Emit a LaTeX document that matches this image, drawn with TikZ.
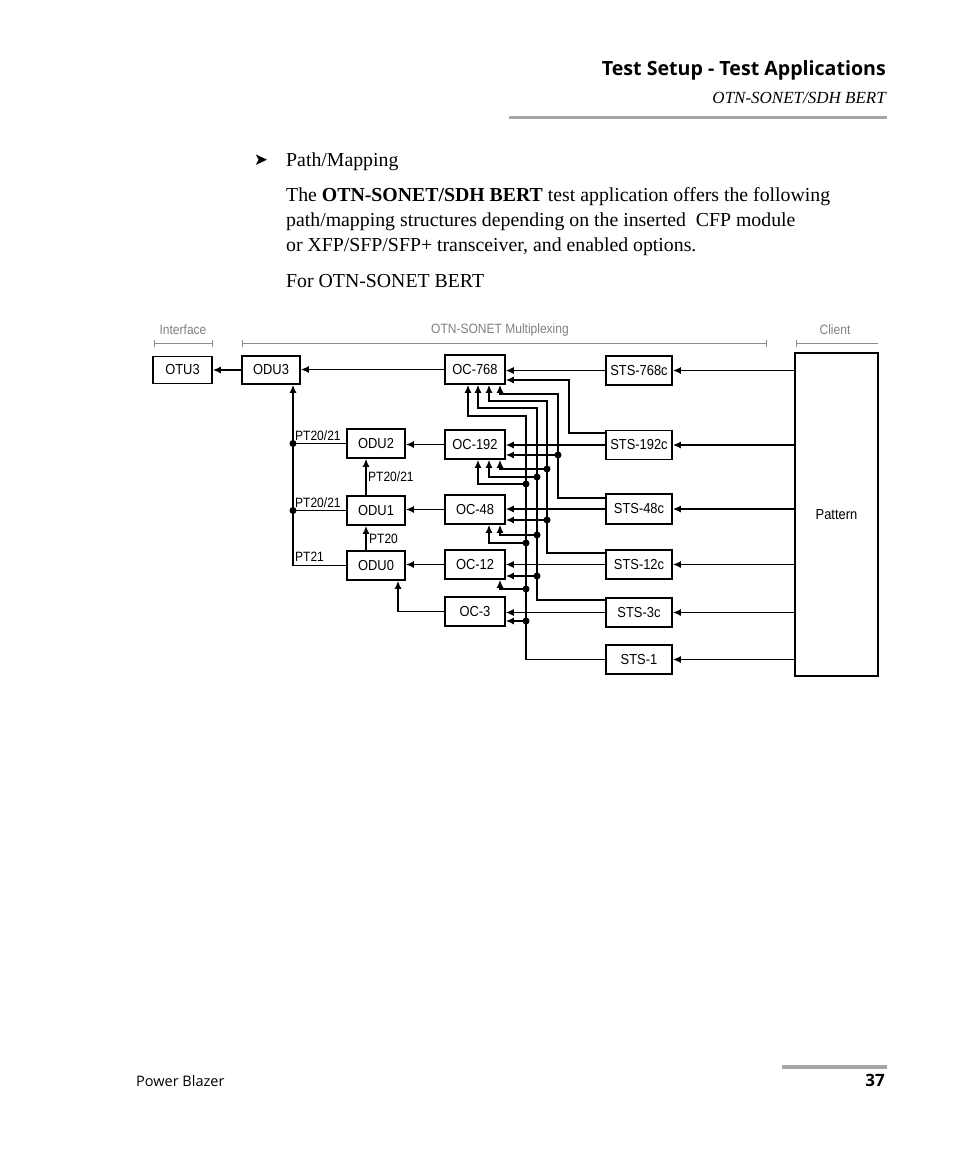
\documentclass[tikz,border=0pt]{standalone}
\usepackage{fontspec}
\setmainfont{Liberation Serif}
\newfontfamily\dg[FakeStretch=0.89]{Liberation Sans}
\newfontfamily\hd{Open Sans}
\newfontfamily\sym{DejaVu Sans}
\usetikzlibrary{arrows.meta}
\tikzset{
  box/.style={draw, line width=1.6pt, inner sep=0pt, font=\dg\fontsize{14.5}{16}\selectfont},
  ocbox/.style={box, minimum width=60pt, minimum height=29pt},
  stsbox/.style={box, minimum width=66pt, minimum height=29pt},
  odubox/.style={box, minimum width=58pt, minimum height=29pt},
  arr/.style={-{Latex[length=8pt,width=7pt]}, line width=1.2pt},
  net/.style={arr, line width=1.6pt},
  dot/.style={circle, fill=black, inner sep=0pt, minimum size=7pt},
  lbl/.style={inner sep=1pt, font=\dg\fontsize{13.5}{15}\selectfont},
  glbl/.style={inner sep=0pt, text=black!50, font=\dg\fontsize{13.5}{15}\selectfont},
  brk/.style={draw=black!45, line width=0.9pt},
  body/.style={anchor=base west, inner sep=0pt, font=\fontsize{19.8}{23}\selectfont},
}
\begin{document}
\begin{tikzpicture}[x=1pt,y=-1pt]
\useasboundingbox (0,0) rectangle (954,1159);
\fill[white] (0,0) rectangle (954,1159);

% page header
\node[anchor=base east, inner sep=0pt, font=\hd\bfseries\fontsize{19.6}{22}\selectfont] (head) at (886,75) {Test Setup - Test Applications};
\node[anchor=base east, inner sep=0pt, font=\itshape\fontsize{17}{19}\selectfont] (subhead) at (886,103) {OTN-SONET/SDH BERT};
\draw[line width=3pt, black!35] (509,117) -- (887,117);

% body text
\node[anchor=center, inner sep=0pt, font=\sym\fontsize{17}{20}\selectfont] (bullet) at (261,160) {➤};
\node[body] (t1) at (286,166) {Path/Mapping};
\node[body] (t2) at (286,201) {The \textbf{OTN-SONET/SDH BERT} test application offers the following};
\node[body] (t3) at (286,226) {path/mapping structures depending on the inserted\ \ CFP module};
\node[body] (t4) at (286,251) {or XFP/SFP/SFP+ transceiver, and enabled options.};
\node[body] (t5) at (286,287) {For OTN-SONET BERT};

% column headings
\node[glbl] (hIf) at (183,330) {Interface};
\node[glbl] (hMux) at (500,330) {OTN-SONET Multiplexing};
\node[glbl] (hCl) at (835,330) {Client};
\draw[brk] (154,339.5) -- (154,346.5) (154,343) -- (212,343) (212,339.5) -- (212,346.5);
\draw[brk] (242,339.5) -- (242,346.5) (242,343) -- (766,343) (766,339.5) -- (766,346.5);
\draw[brk] (796,339.5) -- (796,346.5) (796,343) -- (878,343);

% boxes
\node[box, minimum width=59pt, minimum height=27pt] (otu3) at (182.5,370) {OTU3};
\node[box, minimum width=58pt, minimum height=28pt] (odu3) at (271,370) {ODU3};
\node[ocbox] (oc768) at (475,369.5) {OC-768};
\node[stsbox] (sts768) at (639,370.5) {STS-768c};
\node[odubox] (odu2) at (376,443.5) {ODU2};
\node[ocbox] (oc192) at (475,444.5) {OC-192};
\node[stsbox] (sts192) at (639,445) {STS-192c};
\node[odubox] (odu1) at (376,510.5) {ODU1};
\node[ocbox] (oc48) at (475,509.5) {OC-48};
\node[stsbox, minimum height=30pt] (sts48) at (639,509) {STS-48c};
\node[odubox] (odu0) at (376,565.5) {ODU0};
\node[ocbox] (oc12) at (475,564.5) {OC-12};
\node[stsbox] (sts12) at (639,564.5) {STS-12c};
\node[ocbox] (oc3) at (475,611.5) {OC-3};
\node[stsbox] (sts3) at (639,612.5) {STS-3c};
\node[stsbox] (sts1) at (639,659.5) {STS-1};
\node[draw, line width=1.1pt, minimum width=83pt, minimum height=323pt, inner sep=0pt,
      font=\dg\fontsize{14.5}{16}\selectfont] (pattern) at (836.5,514.5) {Pattern};

% OTN side
\draw[net] (odu3.west) -- (otu3.east);
\draw[net] (oc768.west) -- (oc768.west -| odu3.east);
\coordinate (bx) at (293,0);
\draw[net] (odu0.west) -| (bx |- odu3.south);
\draw[net, -] (odu2.west) -- (odu2.west -| bx) node[dot] (dbus2) {};
\draw[net, -] (odu1.west) -- (odu1.west -| bx) node[dot] (dbus1) {};
\node[lbl, anchor=south west] (lp1) at (294,442) {PT20/21};
\node[lbl, anchor=south west] (lp2) at (294,508.5) {PT20/21};
\node[lbl, anchor=south west] (lp3) at (294,563) {PT21};
\draw[net] ([xshift=-10pt]odu1.north) -- ([xshift=-10pt]odu2.south);
\draw[net] ([xshift=-10pt]odu0.north) -- ([xshift=-10pt]odu1.south);
\node[lbl, anchor=west] (lp4) at (367,477) {PT20/21};
\node[lbl, anchor=west] (lp5) at (368,539) {PT20};
\draw[net] (oc192.west) -- (oc192.west -| odu2.east);
\draw[net] (oc48.west) -- (oc48.west -| odu1.east);
\draw[net] (oc12.west) -- (oc12.west -| odu0.east);
\draw[net] (oc3.west) -| ([xshift=22pt]odu0.south);

% client side
\foreach \n in {sts768,sts192,sts48,sts12,sts3,sts1}
  \draw[net] (\n.east -| pattern.west) -- (\n.east);
\foreach \s/\o in {sts768/oc768,sts192/oc192,sts48/oc48,sts12/oc12,sts3/oc3}
  \draw[arr] (\s.west) -- (\s.west -| \o.east);

% multiplexing network
\coordinate (b1) at (468,0);
\coordinate (b2) at (478,0);
\coordinate (b3) at (489,0);
\coordinate (b4) at (500,0);
% STS-192c -> OC-768
\draw[arr] ([yshift=12pt]sts192.west) -- (569,433) -- (569,380) -- ([yshift=-10.5pt]oc768.east);
% STS-48c
\draw[net] ([yshift=11pt]sts48.west) -- (558,498) -- (558,394) -- (500,394) -- (b4 |- oc768.south);
\node[dot] (dD1) at (558,455) {};
\draw[net] (dD1.center) -- ([yshift=-10.5pt]oc192.east);
% STS-12c
\draw[net] ([yshift=11.5pt]sts12.west) -- (547,553) -- (547,401) -- (489,401) -- (b3 |- oc768.south);
\node[dot] (dC1) at (547,469) {};
\node[dot] (dC2) at (547,520) {};
\draw[net] (dC1.center) -- (500,469) -- (b4 |- oc192.south);
\draw[net] (dC2.center) -- ([yshift=-10.5pt]oc48.east);
% STS-3c
\draw[net] ([yshift=12.5pt]sts3.west) -- (537,600) -- (537,408) -- (478,408) -- (b2 |- oc768.south);
\node[dot] (dB1) at (537,477) {};
\node[dot] (dB2) at (537,535) {};
\node[dot] (dB3) at (537,576) {};
\draw[net] (dB1.center) -- (489,477) -- (b3 |- oc192.south);
\draw[net] (dB2.center) -- (500,535) -- (b4 |- oc48.south);
\draw[net] (dB3.center) -- ([yshift=-11.5pt]oc12.east);
% STS-1
\draw[net] (sts1.west) -- (526,659.5) -- (526,416) -- (468,416) -- (b1 |- oc768.south);
\node[dot] (dA1) at (526,484) {};
\node[dot] (dA2) at (526,543) {};
\node[dot] (dA3) at (526,589) {};
\node[dot] (dA4) at (526,621) {};
\draw[net] (dA1.center) -- (478,484) -- (b2 |- oc192.south);
\draw[net] (dA2.center) -- (489,543) -- (b3 |- oc48.south);
\draw[net] (dA3.center) -- (500,589) -- (b4 |- oc12.south);
\draw[net] (dA4.center) -- ([yshift=-9.5pt]oc3.east);

% footer
\draw[line width=4pt, black!35] (782,1067) -- (887,1067);
\node[anchor=base west, inner sep=0pt, font=\hd\fontsize{14.5}{17}\selectfont] (foot) at (136,1086) {Power Blazer};
\node[anchor=base east, inner sep=0pt, font=\hd\bfseries\fontsize{17}{20}\selectfont] (page) at (885,1086) {37};
\end{tikzpicture}
\end{document}
